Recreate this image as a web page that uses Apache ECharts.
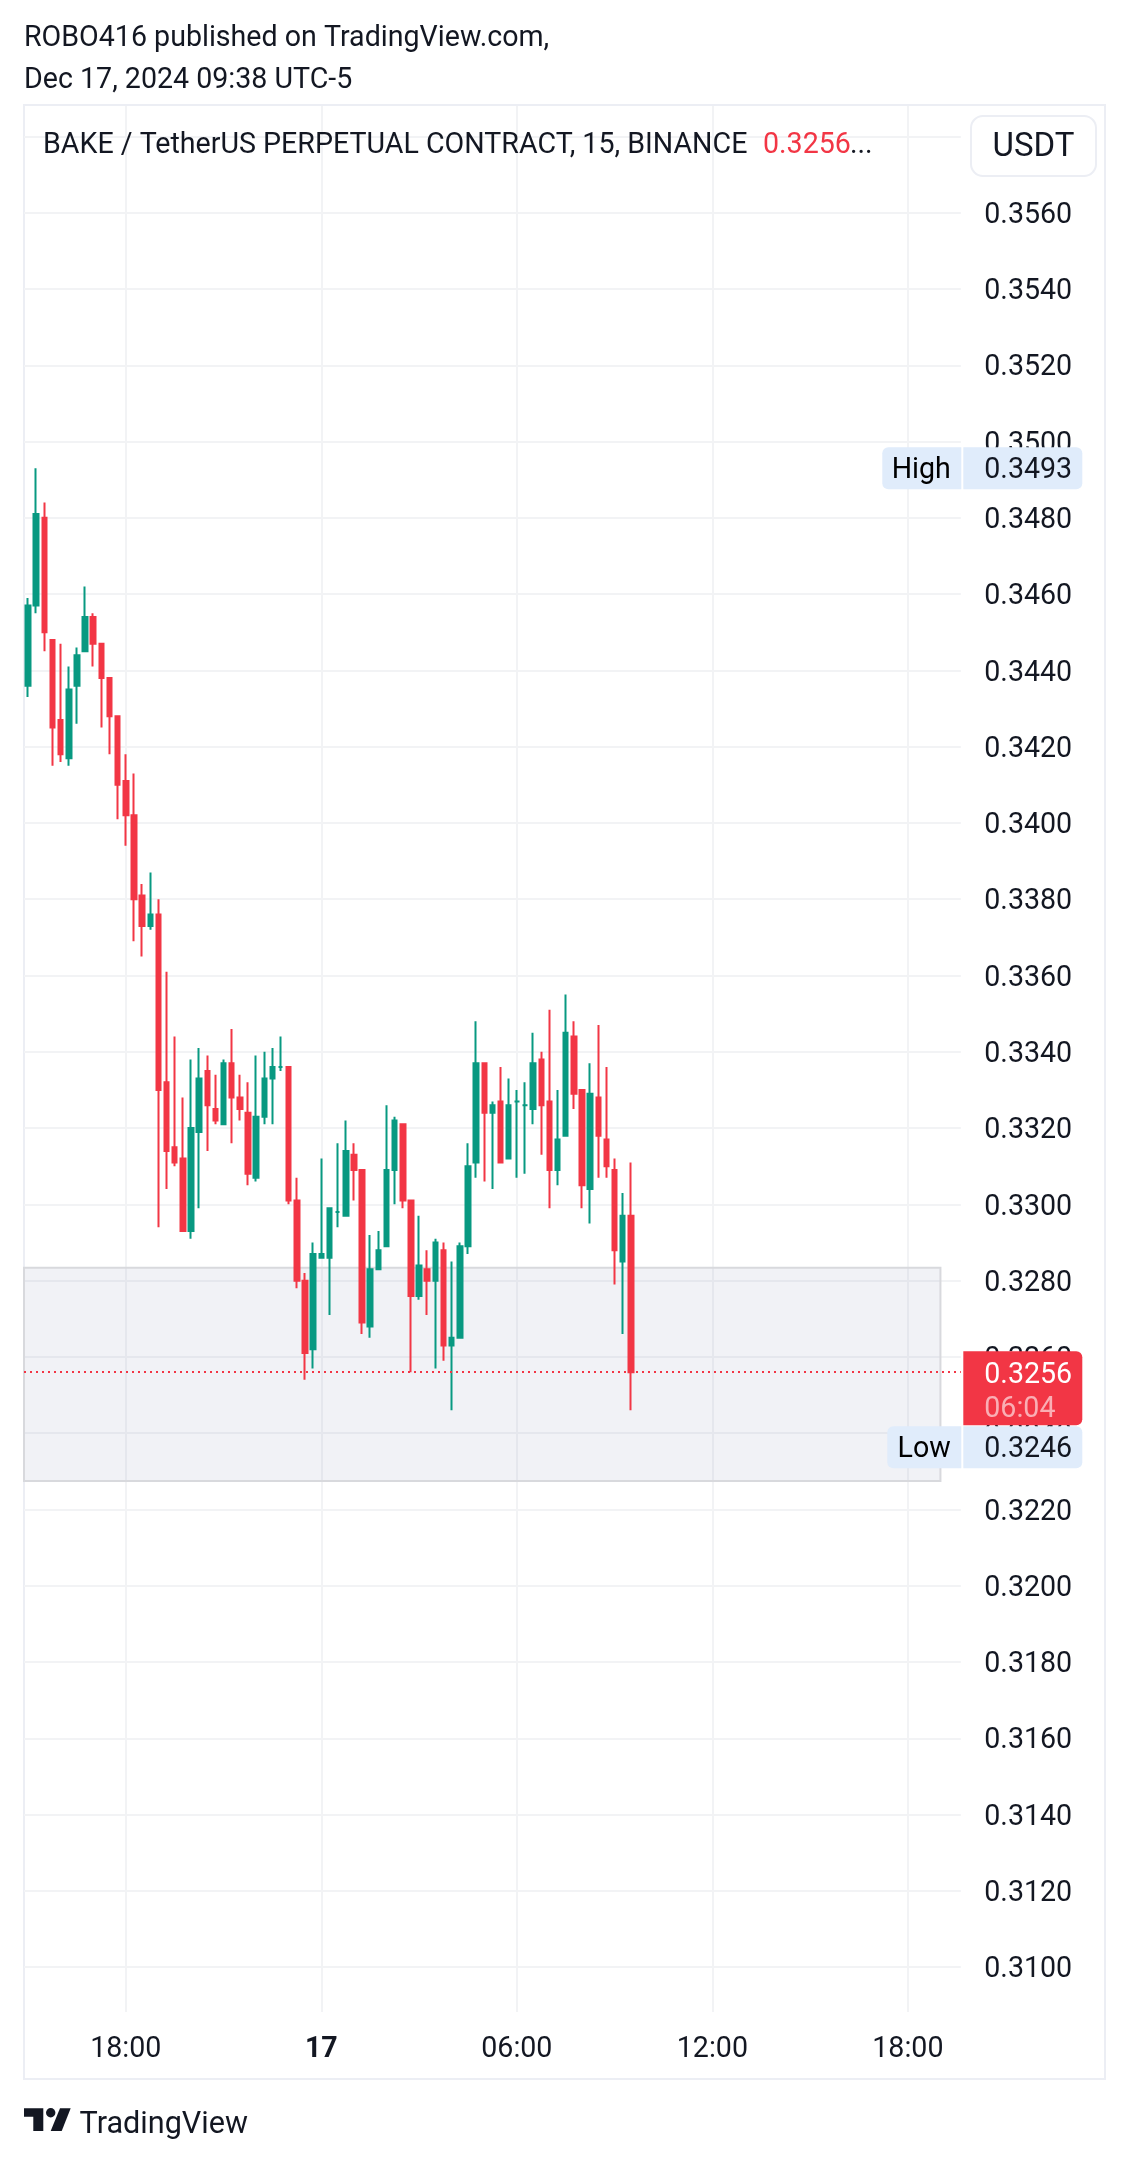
<!DOCTYPE html>
<html lang="en">
<head>
  <meta charset="UTF-8">
  <title>BAKE / TetherUS PERPETUAL CONTRACT, 15, BINANCE</title>
  <script src="https://cdn.jsdelivr.net/npm/echarts@6/dist/echarts.min.js"></script>
  <style>
    html, body { margin: 0; padding: 0; background: #fff; }
    #wrap { width: 1129px; height: 2163px; }
  </style>
</head>
<body>
<div id="wrap"></div>
<script>
  // candles, 15 minutes each, bar 0 is 15:00 on Dec 16
  const opens = [0.3436,0.3457,0.3480,0.3448,0.3427,0.3417,0.3436,0.3445,0.3454,0.3447,0.3438,0.3428,0.3411,0.3402,0.3381,
    0.3373,0.3376,0.3332,0.3315,0.3312,0.3293,0.3319,0.3335,0.3325,0.3321,0.3337,0.3328,0.3324,0.3307,0.3323,
    0.3333,0.3336,0.3336,0.3301,0.3280,0.3262,0.3286,0.3286,0.3298,0.3297,0.3313,0.3309,0.3268,0.3283,0.3289,
    0.3309,0.3321,0.3301,0.3276,0.3283,0.3280,0.3288,0.3263,0.3265,0.3289,0.3311,0.3337,0.3324,0.3327,0.3312,
    0.3327,0.3326,0.3325,0.3338,0.3327,0.3309,0.3318,0.3344,0.3330,0.3304,0.3328,0.3317,0.3309,0.3285,0.3297]
  const closes = [0.3457,0.3481,0.3450,0.3425,0.3418,0.3435,0.3444,0.3454,0.3447,0.3438,0.3428,0.3410,0.3402,0.3380,0.3373,
    0.3376,0.3330,0.3314,0.3311,0.3293,0.3320,0.3333,0.3326,0.3322,0.3337,0.3328,0.3325,0.3308,0.3323,0.3333,
    0.3336,0.3336,0.3301,0.3280,0.3261,0.3287,0.3287,0.3299,0.3298,0.3314,0.3309,0.3269,0.3283,0.3288,0.3309,
    0.3322,0.3301,0.3276,0.3284,0.3280,0.3290,0.3263,0.3265,0.3289,0.3310,0.3337,0.3324,0.3326,0.3311,0.3326,
    0.3327,0.3326,0.3337,0.3326,0.3309,0.3317,0.3345,0.3329,0.3305,0.3329,0.3318,0.3310,0.3288,0.3297,0.3256]
  const lows = [0.3433,0.3455,0.3445,0.3415,0.3416,0.3415,0.3426,0.3445,0.3441,0.3425,0.3418,0.3401,0.3394,0.3369,0.3365,
    0.3372,0.3294,0.3304,0.3310,0.3293,0.3291,0.3299,0.3314,0.3321,0.3321,0.3316,0.3322,0.3305,0.3306,0.3321,
    0.3321,0.3335,0.3300,0.3278,0.3254,0.3257,0.3286,0.3271,0.3294,0.3297,0.3301,0.3266,0.3265,0.3283,0.3289,
    0.3300,0.3299,0.3256,0.3275,0.3271,0.3257,0.3259,0.3246,0.3265,0.3287,0.3307,0.3306,0.3304,0.3311,0.3312,
    0.3307,0.3308,0.3321,0.3313,0.3299,0.3305,0.3318,0.3325,0.3299,0.3295,0.3307,0.3307,0.3279,0.3266,0.3246]
  const highs = [0.3459,0.3493,0.3484,0.3448,0.3447,0.3441,0.3446,0.3462,0.3455,0.3447,0.3438,0.3428,0.3418,0.3413,0.3384,
    0.3387,0.3380,0.3361,0.3344,0.3328,0.3338,0.3341,0.3339,0.3334,0.3338,0.3346,0.3334,0.3332,0.3339,0.3340,
    0.3341,0.3344,0.3336,0.3307,0.3282,0.3290,0.3312,0.3299,0.3316,0.3322,0.3316,0.3309,0.3292,0.3293,0.3326,
    0.3323,0.3321,0.3301,0.3297,0.3288,0.3291,0.3290,0.3285,0.3290,0.3316,0.3348,0.3337,0.3327,0.3336,0.3333,
    0.3330,0.3332,0.3345,0.3340,0.3351,0.3330,0.3355,0.3348,0.3330,0.3337,0.3347,0.3336,0.3312,0.3303,0.3311]

  // axis ticks, time ticks are bar numbers
  const priceTicks = [0.3580,0.3560,0.3540,0.3520,0.3500,0.3480,0.3460,0.3440,0.3420,0.3400,0.3380,0.3360,0.3340,
    0.3320,0.3300,0.3280,0.3260,0.3240,0.3220,0.3200,0.3180,0.3160,0.3140,0.3120,0.3100]
  const timeTicks = [12, 36, 60, 84, 108]
  const timeLabels = ["18:00", "{day|17}", "06:00", "12:00", "18:00"]

  // the shaded zone
  const zoneTop = 0.32834
  const zoneBottom = 0.32275
  const zoneEnd = 112 // 19:00

  const lastPrice = 0.3256
  const countdown = "06:04"
  const highPrice = 0.3493
  const lowPrice = 0.3246

  const GREEN = "#089981"
  const RED = "#F23645"
  const INK = "#131722"
  const GRID = "#f2f3f5"
  const FRAME = "#eceef4"
  const TAG = "#e0ecfb"
  const FONT = "Roboto"
  const SIZE = 28.6
  const HEAD = SIZE + "px " + FONT

  const candles = opens.map((o, i) => [i, o, closes[i], lows[i], highs[i]])
  const lastBar = opens.length - 1

  const chart = echarts.init(document.querySelector("#wrap"))

  // High / Low / last price tags sit on the price axis
  const tags = [
    { kind: "high", name: "High", price: highPrice, shift: 0 },
    { kind: "low", name: "Low", price: lowPrice, shift: 37 }, // pushed down by the last price tag
    { kind: "last", name: "", price: lastPrice, shift: 0 }
  ]

  function tagText(x, y, text, fill, align) {
    return { type: "text", style: { x: x, y: y + 3, text: text, fill: fill, font: HEAD, verticalAlign: "middle", align: align || "left" } }
  }

  function renderTag(params, api) {
    const tag = tags[params.dataIndex]
    const y = api.coord([lastBar, tag.price])[1] + tag.shift
    const right = params.coordSys.x + params.coordSys.width
    const children = []
    if (tag.kind === "last") {
      children.push({ type: "rect", shape: { x: right + 2.5, y: y - 21, width: 119, height: 74, r: [0, 6, 6, 0] }, style: { fill: RED } })
      children.push(tagText(right + 23.5, y + 1, tag.price.toFixed(4), "#fff"))
      children.push(tagText(right + 23.5, y + 35, countdown, "rgba(255,255,255,0.6)"))
    } else {
      const w = tag.kind === "high" ? 79 : 74
      children.push({ type: "rect", shape: { x: right - w + 0.5, y: y - 21, width: w, height: 42, r: [6, 0, 0, 6] }, style: { fill: TAG } })
      children.push({ type: "rect", shape: { x: right + 2.5, y: y - 21, width: 119, height: 42, r: [0, 6, 6, 0] }, style: { fill: TAG } })
      children.push(tagText(right - 10, y, tag.name, "#000", "right"))
      children.push(tagText(right + 23.5, y, tag.price.toFixed(4), INK))
    }
    return { type: "group", children: children }
  }

  function textEl(x, y, text, fill, font) {
    return { type: "text", silent: true, z: 20, style: { x: x, y: y, text: text, fill: fill, font: font || HEAD, verticalAlign: "middle" } }
  }

  function logoPart(points) {
    return { type: "polygon", silent: true, shape: { points: points }, style: { fill: INK } }
  }

  const ops = {
    animation: false,
    backgroundColor: "#fff",
    textStyle: { fontFamily: FONT },
    grid: { left: 24, top: 106, width: 936.8, height: 1906 },
    xAxis: {
      type: "value",
      min: -0.5,
      max: 114.5,
      axisLine: { show: false },
      axisTick: { show: false, customValues: timeTicks },
      splitLine: { show: true, lineStyle: { color: GRID, width: 2 } },
      axisLabel: {
        customValues: timeTicks,
        margin: 23,
        color: INK,
        fontSize: SIZE,
        fontFamily: FONT,
        formatter: (value) => timeLabels[timeTicks.indexOf(value)],
        rich: { day: { fontWeight: "bold", fontSize: SIZE, fontFamily: FONT, color: INK } }
      }
    },
    yAxis: {
      type: "value",
      position: "right",
      scale: true,
      min: 0.308825,
      max: 0.358798,
      axisLine: { show: false },
      axisTick: { show: false, customValues: priceTicks },
      splitLine: { show: true, lineStyle: { color: GRID, width: 2 } },
      axisLabel: {
        customValues: priceTicks,
        margin: 23.5,
        color: INK,
        fontSize: SIZE,
        fontFamily: FONT,
        formatter: (value) => "{p|" + value.toFixed(4) + "}",
        // nudges the text down to sit centred on its grid line
        rich: { p: { fontSize: SIZE, fontFamily: FONT, color: INK, padding: [6, 0, 0, 0] } }
      }
    },
    series: [
      {
        type: "candlestick",
        data: candles,
        barWidth: 5,
        itemStyle: {
          color: GREEN,
          color0: RED,
          borderColor: GREEN,
          borderColor0: RED,
          borderColorDoji: GREEN,
          borderWidth: 2
        },
        markArea: {
          silent: true,
          itemStyle: { color: "rgba(120,130,170,0.10)", borderColor: "#d8d9dd", borderWidth: 2 },
          data: [[{ xAxis: -0.5, yAxis: zoneTop }, { xAxis: zoneEnd, yAxis: zoneBottom }]]
        },
        markLine: {
          silent: true,
          symbol: "none",
          precision: 4,
          label: { show: false },
          lineStyle: { color: RED, width: 2, type: [2, 4] },
          data: [{ yAxis: lastPrice }]
        }
      },
      {
        type: "custom",
        z: 10,
        clip: false,
        silent: true,
        renderItem: renderTag,
        data: tags.map(t => [lastBar, t.price])
      }
    ],
    graphic: [
      // frame round the chart
      { type: "rect", silent: true, z: -1, shape: { x: 24, y: 105, width: 1081, height: 1974 }, style: { fill: "none", stroke: FRAME, lineWidth: 2 } },
      textEl(24, 39, "ROBO416 published on TradingView.com,", INK),
      textEl(24, 81, "Dec 17, 2024 09:38 UTC-5", INK),
      textEl(43, 146, "BAKE / TetherUS PERPETUAL CONTRACT, 15, BINANCE", INK),
      textEl(763, 146, "0.3256", RED),
      textEl(850, 146, "...", INK),
      // currency button
      { type: "rect", silent: true, z: 20, shape: { x: 971, y: 116, width: 125, height: 60, r: 12 }, style: { fill: "#fff", stroke: FRAME, lineWidth: 2 } },
      { type: "text", silent: true, z: 21, style: { x: 1033.5, y: 148, text: "USDT", fill: INK, font: "33px " + FONT, align: "center", verticalAlign: "middle" } },
      // TradingView logo
      logoPart([[24, 2108.3], [43.3, 2108.3], [43.3, 2131], [33.3, 2131], [33.3, 2116.7], [24, 2116.7]]),
      logoPart([[60, 2108.3], [70.7, 2108.3], [61.7, 2131], [50.7, 2131]]),
      { type: "circle", silent: true, shape: { cx: 50.7, cy: 2112.7, r: 4.7 }, style: { fill: INK } },
      textEl(79.5, 2125, "TradingView", INK, "30.6px " + FONT)
    ]
  }

  chart.setOption(ops)
</script>
</body>
</html>
